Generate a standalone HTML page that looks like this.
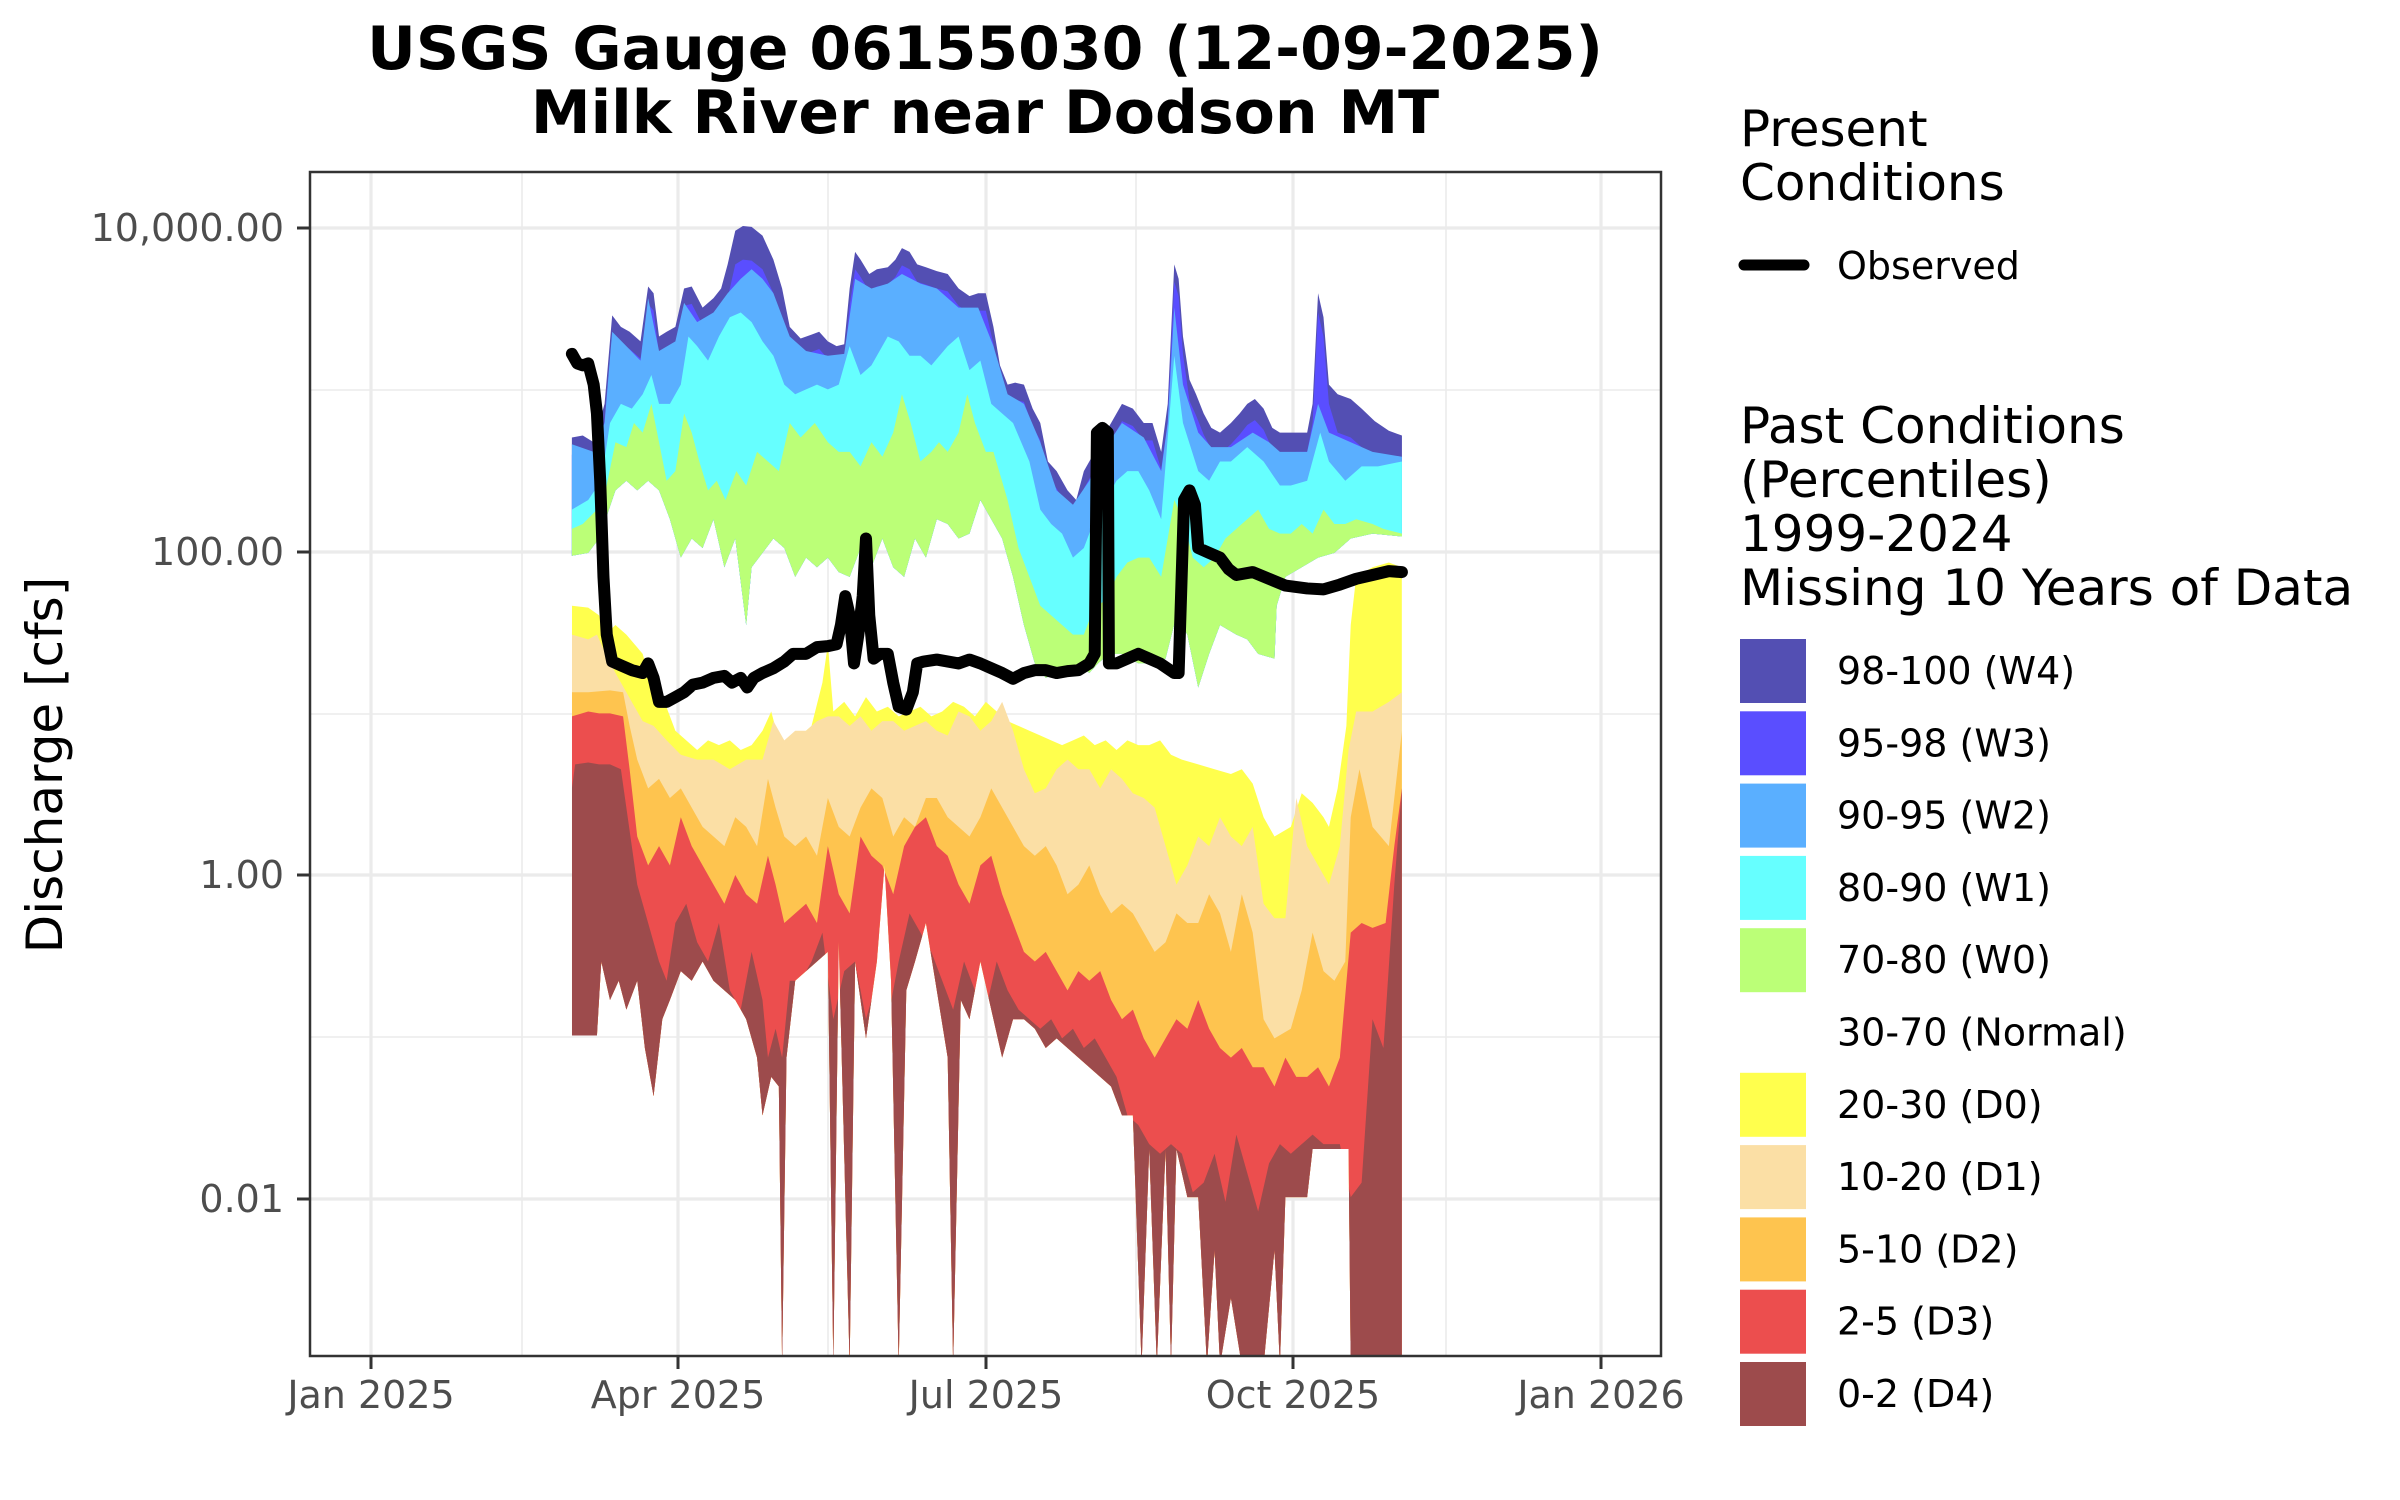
<!DOCTYPE html>
<html><head><meta charset="utf-8"><style>
html,body{margin:0;padding:0;background:#fff;}
svg{display:block;font-family:"DejaVu Sans","Liberation Sans",sans-serif;}
</style></head><body>
<svg id="s" width="2400" height="1500" viewBox="0 0 2400 1500" xmlns="http://www.w3.org/2000/svg">
<rect width="2400" height="1500" fill="#fff"/>
<defs><clipPath id="pc"><rect x="310" y="172" width="1351" height="1184"/></clipPath></defs>
<g stroke="#ebebeb">
<g stroke-width="1.6">
<line x1="310" x2="1661" y1="390" y2="390"/><line x1="310" x2="1661" y1="714" y2="714"/><line x1="310" x2="1661" y1="1037" y2="1037"/>
<line y1="172" y2="1356" x1="522" x2="522"/><line y1="172" y2="1356" x1="828" x2="828"/><line y1="172" y2="1356" x1="1136" x2="1136"/><line y1="172" y2="1356" x1="1446" x2="1446"/>
</g>
<g stroke-width="3.2">
<line x1="310" x2="1661" y1="228" y2="228"/><line x1="310" x2="1661" y1="552" y2="552"/><line x1="310" x2="1661" y1="875" y2="875"/><line x1="310" x2="1661" y1="1199" y2="1199"/>
<line y1="172" y2="1356" x1="371" x2="371"/><line y1="172" y2="1356" x1="678" x2="678"/><line y1="172" y2="1356" x1="986" x2="986"/><line y1="172" y2="1356" x1="1293" x2="1293"/><line y1="172" y2="1356" x1="1601" x2="1601"/>
</g></g>
<g clip-path="url(#pc)"><g id="data" transform="scale(1.0893,0.9615)"></g></g>
<rect x="310" y="172" width="1351" height="1184" fill="none" stroke="#333" stroke-width="2.5"/>
<g stroke="#333" stroke-width="3">
<line x1="297" x2="310" y1="228" y2="228"/><line x1="297" x2="310" y1="552" y2="552"/><line x1="297" x2="310" y1="875" y2="875"/><line x1="297" x2="310" y1="1199" y2="1199"/>
<line y1="1356" y2="1369" x1="371" x2="371"/><line y1="1356" y2="1369" x1="678" x2="678"/><line y1="1356" y2="1369" x1="986" x2="986"/><line y1="1356" y2="1369" x1="1293" x2="1293"/><line y1="1356" y2="1369" x1="1601" x2="1601"/>
</g>
<g fill="#4d4d4d" font-size="38" text-anchor="end">
<text x="284" y="241">10,000.00</text><text x="284" y="565">100.00</text><text x="284" y="888">1.00</text><text x="284" y="1212">0.01</text>
</g>
<g fill="#4d4d4d" font-size="38" text-anchor="middle">
<text x="371" y="1408">Jan 2025</text><text x="678" y="1408">Apr 2025</text><text x="986" y="1408">Jul 2025</text><text x="1293" y="1408">Oct 2025</text><text x="1601" y="1408">Jan 2026</text>
</g>
<text transform="translate(62,765) rotate(-90)" font-size="50" text-anchor="middle">Discharge [cfs]</text>
<g font-size="60" font-weight="bold" text-anchor="middle">
<text x="985" y="69">USGS Gauge 06155030 (12-09-2025)</text>
<text x="985" y="133">Milk River near Dodson MT</text>
</g>
<g font-size="50">
<text x="1740" y="146">Present</text><text x="1740" y="200">Conditions</text>
<text x="1740" y="443">Past Conditions</text><text x="1740" y="497">(Percentiles)</text><text x="1740" y="551">1999-2024</text><text x="1740" y="605">Missing 10 Years of Data</text>
</g>
<line x1="1744" x2="1804" y1="265" y2="265" stroke="#000" stroke-width="11" stroke-linecap="round"/>
<text x="1837" y="279" font-size="38">Observed</text>
<g id="leg" font-size="38"></g>
</svg>
<script>
var Z=function(a){var r=[];for(var i=0;i<a.length;i+=2)r.push([a[i],a[i+1]]);return r;};
var W4=Z([525,455,535,453,545,460,555,420,562,328,570,340,578,345,588,355,595,298,600,305,605,350,612,345,620,340,628,300,635,298,645,320,655,310,662,300,668,275,675,240,682,235,690,236,700,245,710,270,718,300,725,340,735,352,745,348,752,345,760,355,768,360,775,358,780,300,785,262,790,270,798,285,805,280,815,278,822,270,828,258,835,262,842,275,850,278,860,282,870,285,880,300,890,308,898,305,905,305,912,340,918,380,925,400,932,398,940,400,948,425,955,440,962,480,970,490,980,510,988,520,995,490,1005,470,1012,455,1020,440,1030,420,1040,425,1050,440,1058,440,1066,470,1072,420,1078,275,1082,290,1086,350,1092,395,1098,410,1105,430,1112,445,1120,450,1130,440,1138,430,1145,420,1152,415,1160,425,1168,445,1175,450,1190,450,1200,450,1205,420,1210,305,1215,330,1220,400,1228,410,1240,415,1250,425,1262,438,1275,448,1287,453]);
var W3=W4.map(function(p){var o=18;if(p[0]>660&&p[0]<720)o=35;if(p[0]>1180)o=p[0]>1225?40:20;if(p[0]>1090&&p[0]<1180)o=22;return [p[0],p[1]+o];});
var W2=Z([525,462,545,470,555,440,562,345,575,360,588,375,595,310,605,365,620,355,628,315,640,335,655,325,668,305,680,290,690,280,700,290,710,305,725,350,740,365,760,370,775,368,785,290,800,300,815,295,828,285,845,295,860,300,880,320,898,320,912,360,925,410,940,420,955,460,970,510,985,525,1000,500,1012,470,1030,440,1050,455,1066,490,1072,440,1078,320,1086,400,1100,450,1112,465,1130,465,1150,450,1165,460,1175,470,1200,470,1210,420,1220,450,1240,460,1260,470,1287,475]);
var W1=Z([525,530,540,520,552,500,560,440,570,420,580,425,590,410,598,390,605,420,615,420,625,400,632,350,640,360,650,375,660,350,670,330,680,325,690,335,700,355,710,370,720,400,730,410,740,405,750,400,760,405,770,400,780,360,790,390,800,380,815,350,825,355,835,370,845,370,855,380,870,360,880,350,890,385,900,375,910,420,920,430,930,440,945,480,955,530,965,545,975,555,985,580,995,570,1005,540,1015,520,1025,500,1035,490,1045,490,1055,510,1066,540,1078,370,1086,440,1100,490,1110,500,1120,480,1130,480,1145,465,1160,480,1175,505,1185,505,1200,500,1212,450,1220,480,1235,500,1250,485,1265,485,1287,480]);
var W0=Z([525,550,535,545,548,530,556,510,565,460,575,465,582,440,590,450,598,420,605,460,612,500,620,490,628,430,635,450,642,480,650,510,658,500,666,520,676,490,685,505,695,470,705,480,715,490,725,440,735,455,748,440,760,460,770,470,780,470,790,485,800,460,810,475,820,450,828,410,836,440,845,480,855,470,862,460,870,470,880,450,888,410,895,440,905,470,912,470,925,520,935,570,945,600,955,630,965,640,975,650,985,660,995,660,1005,630,1015,625,1025,600,1035,585,1045,580,1055,580,1066,600,1078,520,1086,540,1095,580,1105,590,1115,580,1125,560,1140,545,1155,530,1165,550,1175,555,1185,555,1195,545,1205,555,1215,530,1225,545,1235,545,1245,540,1260,545,1270,550,1287,555]);
var NT=Z([525,578,540,575,550,560,556,540,565,510,575,500,585,510,595,500,605,510,615,540,625,580,635,560,645,570,655,540,665,590,675,560,685,650,690,590,700,575,710,560,720,570,730,600,740,580,750,590,760,580,770,595,780,600,790,570,800,590,810,560,820,590,830,600,840,560,850,580,860,540,870,545,880,560,890,555,900,520,910,540,920,560,930,600,940,650,950,690,960,705,970,700,980,700,990,690,1000,700,1008,690,1018,680,1030,680,1045,690,1058,690,1070,685,1080,640,1090,660,1100,715,1110,680,1120,650,1135,660,1145,665,1155,680,1170,685,1172,630,1180,600,1195,590,1210,580,1225,575,1240,560,1260,555,1287,558]);
var D0=Z([525,630,540,632,550,640,556,660,565,650,575,660,590,680,600,720,610,730,620,760,630,770,640,780,650,770,660,775,670,770,680,780,690,775,700,760,708,740,715,770,725,775,735,765,745,755,755,710,760,670,765,740,775,730,785,745,795,725,805,740,815,735,825,745,835,740,845,735,855,745,865,740,875,730,885,735,895,745,905,730,915,740,925,750,935,755,945,760,955,765,965,770,975,775,985,770,995,765,1005,775,1015,770,1025,780,1035,770,1045,775,1055,775,1065,770,1075,785,1085,790,1100,795,1115,800,1130,805,1140,800,1150,815,1160,850,1170,870,1185,860,1195,825,1205,835,1215,850,1220,860,1228,820,1236,755,1240,650,1245,600,1260,590,1275,585,1287,590]);
var D1=Z([525,660,540,665,548,660,556,680,565,700,575,720,590,750,600,755,612,770,625,785,640,790,655,790,670,800,685,790,700,790,710,750,720,770,730,760,740,760,750,750,760,745,770,745,780,755,790,745,800,760,810,750,820,750,830,760,840,755,850,750,860,760,870,765,880,740,890,745,900,760,910,750,920,730,930,760,940,800,950,825,960,820,970,800,980,790,990,800,1000,800,1010,820,1020,800,1030,810,1040,825,1050,830,1060,840,1070,880,1080,920,1090,900,1100,870,1110,880,1120,850,1130,870,1140,880,1150,860,1160,940,1170,955,1180,955,1190,830,1200,880,1210,900,1220,920,1230,880,1238,780,1245,740,1260,740,1275,730,1287,720]);
var D2=Z([525,720,540,720,560,718,572,720,578,755,585,790,595,820,605,810,615,830,625,820,635,840,645,860,655,870,665,880,675,850,685,860,695,880,705,810,712,840,720,870,730,880,740,870,750,890,760,830,770,860,780,870,790,840,800,820,810,830,820,870,830,850,840,860,850,830,860,830,870,850,880,860,890,870,900,850,910,820,920,840,930,860,940,880,950,890,960,880,970,900,980,930,990,920,1000,900,1010,930,1020,950,1030,940,1040,950,1050,970,1060,990,1070,980,1080,950,1090,960,1100,960,1110,930,1120,950,1130,990,1140,930,1150,970,1160,1060,1170,1080,1185,1070,1195,1030,1205,970,1215,1010,1225,1020,1235,1000,1240,850,1248,800,1260,860,1275,880,1287,760]);
var D3=Z([525,745,540,740,550,742,560,742,572,745,578,800,585,870,595,900,605,880,615,900,625,850,635,880,645,900,655,920,665,940,675,910,685,930,695,940,705,890,712,920,720,960,730,950,740,940,750,960,760,880,770,930,780,950,790,870,800,890,810,900,820,930,830,880,840,860,850,850,860,880,870,890,880,920,890,940,900,900,910,890,920,930,930,960,940,990,950,1000,960,990,970,1010,980,1030,990,1010,1000,1020,1010,1010,1020,1040,1030,1060,1040,1050,1050,1080,1060,1100,1070,1080,1080,1060,1090,1070,1100,1040,1110,1070,1120,1090,1130,1100,1140,1090,1150,1110,1160,1110,1170,1130,1180,1100,1190,1120,1200,1120,1210,1110,1220,1130,1230,1100,1240,970,1250,960,1260,965,1272,960,1280,880,1287,820]);
var D4=Z([525,820,528,795,540,793,550,795,560,795,570,800,575,840,585,920,595,960,605,1000,612,1020,620,960,630,940,640,980,650,1000,660,960,670,1030,680,1050,690,990,700,1040,705,1100,712,1070,718,1100,725,1020,735,1020,745,1000,755,970,765,1060,775,1010,785,1000,795,1060,805,1020,815,1060,825,1000,835,950,845,970,855,990,865,1020,875,1050,885,1000,895,1030,905,1050,915,1000,925,1030,935,1050,945,1060,955,1070,965,1060,975,1080,985,1070,995,1090,1005,1080,1015,1100,1025,1120,1035,1160,1045,1170,1055,1190,1065,1200,1075,1190,1085,1200,1095,1240,1105,1230,1115,1200,1125,1250,1135,1180,1145,1220,1155,1260,1165,1210,1175,1190,1185,1200,1195,1190,1205,1180,1215,1190,1230,1190,1240,1245,1250,1230,1260,1060,1270,1090,1280,920,1287,820]);
var DB=Z([525,1077,548,1077,552,1000,560,1040,568,1020,575,1050,585,1020,592,1090,600,1140,608,1060,615,1040,625,1010,635,1020,645,1000,655,1020,665,1030,675,1040,685,1060,695,1100,700,1160,708,1120,715,1130,718,1420,722,1100,730,1020,740,1010,750,1000,760,990,765,1420,770,980,780,1420,785,1000,795,1080,805,1000,812,900,818,1020,825,1420,832,1030,840,1000,850,960,860,1030,870,1100,875,1420,882,1040,890,1060,900,1000,910,1050,920,1100,930,1060,940,1060,950,1070,960,1090,970,1080,980,1090,990,1100,1000,1110,1010,1120,1020,1130,1030,1160,1040,1160,1048,1420,1055,1195,1062,1420,1070,1195,1075,1420,1080,1195,1090,1245,1100,1245,1108,1420,1115,1300,1120,1420,1130,1350,1140,1420,1150,1420,1160,1420,1170,1300,1175,1420,1180,1245,1190,1245,1200,1245,1205,1195,1238,1195,1240,1420,1287,1420]);
var OB=Z([525,368,530,378,535,380,540,378,545,400,548,430,551,500,554,600,557,660,562,688,570,692,580,697,590,700,595,690,600,705,605,730,612,730,620,725,628,720,636,712,645,710,655,705,665,703,672,710,680,705,686,715,692,705,700,700,710,695,720,688,728,680,740,680,750,673,760,672,768,670,772,650,776,620,780,640,784,690,788,660,792,620,795,560,798,640,802,685,808,680,815,680,820,710,825,735,832,738,838,720,842,690,848,688,860,686,880,690,890,686,900,690,910,695,920,700,930,706,940,700,950,697,960,697,970,700,980,698,990,697,1000,690,1005,680,1007,450,1012,445,1017,450,1018,690,1025,690,1035,685,1045,680,1055,685,1065,690,1078,700,1082,700,1087,520,1092,510,1097,525,1100,570,1110,575,1120,580,1128,592,1135,598,1150,595,1165,602,1180,609,1200,612,1215,613,1230,608,1245,602,1260,598,1275,594,1287,595]);
function pts(a){return a.map(function(p){return p[0]+','+p[1];}).join(' ');}
function rev(a){return a.slice().reverse();}
var NS="http://www.w3.org/2000/svg",g=document.getElementById('data');
function el(t,at,par){var e=document.createElementNS(NS,t);for(var k in at)e.setAttribute(k,at[k]);(par||g).appendChild(e);return e;}
var cp=el('clipPath',{id:'dc'},document.querySelector('defs'));
el('polygon',{points:'525,0 1287,0 '+pts(rev(DB))},cp);
var wg=el('g',{});
[[W4,'#534fb3'],[W3,'#5a4eff'],[W2,'#5aafff'],[W1,'#66ffff'],[W0,'#bbff77']].forEach(function(b){el('polygon',{points:pts(b[0])+' '+pts(rev(NT)),fill:b[1]},wg);});
var dg=el('g',{'clip-path':'url(#dc)'});
[[D0,'#ffff4d'],[D1,'#fbdfa5'],[D2,'#fec44f'],[D3,'#ec4e4e'],[D4,'#9d4b4c']].forEach(function(b){el('polygon',{points:pts(b[0])+' 1287,1430 525,1430',fill:b[1]},dg);});
el('polyline',{points:pts(OB),fill:'none',stroke:'#000','stroke-width':12,'stroke-linejoin':'round','stroke-linecap':'round','vector-effect':'non-scaling-stroke'});
var leg=document.getElementById('leg');
var L=[['98-100 (W4)','#534fb3'],['95-98 (W3)','#5a4eff'],['90-95 (W2)','#5aafff'],['80-90 (W1)','#66ffff'],['70-80 (W0)','#bbff77'],['30-70 (Normal)',null],['20-30 (D0)','#ffff4d'],['10-20 (D1)','#fbdfa5'],['5-10 (D2)','#fec44f'],['2-5 (D3)','#ec4e4e'],['0-2 (D4)','#9d4b4c']];
L.forEach(function(r,i){var cy=671+i*72.3;if(r[1])el('rect',{x:1740,y:cy-32,width:66,height:64,fill:r[1]},leg);var t=el('text',{x:1837,y:cy+13},leg);t.textContent=r[0];});
</script>
</body></html>
